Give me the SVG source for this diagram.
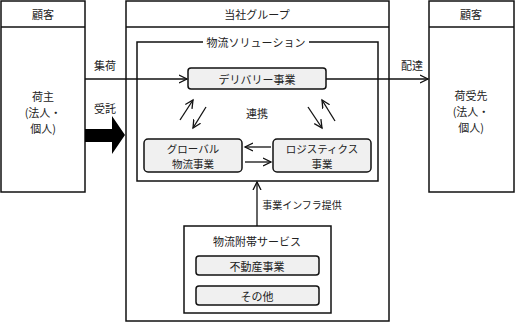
<svg xmlns="http://www.w3.org/2000/svg" width="515" height="323" viewBox="0 0 515 323">
<defs>
<style>
.box{fill:#fff;stroke:#111;stroke-width:1.5}
.rbox{fill:#f0f0f0;stroke:#111;stroke-width:1.5}
.ln{fill:none;stroke:#111;stroke-width:1.3}
text{font-family:"Noto Sans CJK JP","Noto Sans CJK SC",sans-serif;font-size:11px;fill:#222;text-anchor:middle;dominant-baseline:central}
.sm{font-size:10px}
.tw{font-size:10.5px}
</style>
<marker id="ah" markerUnits="userSpaceOnUse" markerWidth="10" markerHeight="10" refX="8" refY="4.5" orient="auto" viewBox="0 0 10 9">
<path d="M0,0.5 L8,4.5 L0,8.5" fill="none" stroke="#111" stroke-width="1.3"/>
</marker>
</defs>
<rect width="515" height="323" fill="#fff"/>

<g id="shipper">
<rect class="box" x="1" y="1" width="84" height="191"/>
<line class="ln" x1="1" y1="27" x2="85" y2="27"/>
<text x="43" y="14">顧客</text>
<text x="43" y="96">荷主</text>
<text x="43" y="112">(法人・</text>
<text x="43" y="128">個人)</text>
</g>

<g id="consignee">
<rect class="box" x="429" y="1" width="85" height="191"/>
<line class="ln" x1="429" y1="27" x2="514" y2="27"/>
<text x="471" y="14">顧客</text>
<text x="471" y="95">荷受先</text>
<text x="471" y="111">(法人・</text>
<text x="471" y="127">個人)</text>
</g>

<g id="group">
<rect class="box" x="126" y="1" width="263" height="320"/>
<line class="ln" x1="126" y1="27" x2="389" y2="27"/>
<text x="257" y="14">当社グループ</text>
</g>

<g id="solution">
<rect class="box" x="137" y="42" width="241" height="139"/>
<rect x="203" y="35" width="106" height="14" fill="#fff"/>
<text x="256" y="42">物流ソリューション</text>
</g>

<g id="delivery">
<rect class="rbox" x="188" y="68" width="138" height="21" rx="3"/>
<text x="257" y="78.5">デリバリー事業</text>
</g>

<g id="global">
<rect class="rbox" x="144" y="139" width="98" height="33" rx="4"/>
<text class="tw" x="193" y="148">グローバル</text>
<text class="tw" x="193" y="163.5">物流事業</text>
</g>

<g id="logistics">
<rect class="rbox" x="273" y="139" width="98" height="33" rx="4"/>
<text class="tw" x="322" y="148">ロジスティクス</text>
<text class="tw" x="322" y="163.5">事業</text>
</g>

<g id="ancillary">
<rect class="box" x="184" y="226" width="147" height="87"/>
<text x="257" y="241">物流附帯サービス</text>
<rect class="rbox" x="196" y="256" width="123" height="19" rx="3"/>
<text x="257" y="265.5">不動産事業</text>
<rect class="rbox" x="196" y="286" width="123" height="19" rx="3"/>
<text x="257" y="295.5">その他</text>
</g>

<g id="connectors">
<line class="ln" x1="85" y1="79" x2="187" y2="79" marker-end="url(#ah)"/>
<line class="ln" x1="326" y1="79" x2="428" y2="79" marker-end="url(#ah)"/>
<polygon points="85,129 112,129 112,116 125,135 112,154 112,142 85,142" fill="#000"/>
<line class="ln" x1="180" y1="120" x2="193" y2="100" marker-end="url(#ah)"/>
<line class="ln" x1="206" y1="107" x2="193" y2="128" marker-end="url(#ah)"/>
<line class="ln" x1="308" y1="107" x2="322" y2="128" marker-end="url(#ah)"/>
<line class="ln" x1="335" y1="121" x2="322" y2="100" marker-end="url(#ah)"/>
<line class="ln" x1="271" y1="147" x2="245" y2="147" marker-end="url(#ah)"/>
<line class="ln" x1="245" y1="162" x2="271" y2="162" marker-end="url(#ah)"/>
<line class="ln" x1="257" y1="226" x2="257" y2="182" marker-end="url(#ah)"/>
<text x="105" y="65">集荷</text>
<text x="105" y="108">受託</text>
<text x="412" y="65">配達</text>
<text x="257" y="113">連携</text>
<text class="sm" x="302" y="204">事業インフラ提供</text>
</g>
</svg>
